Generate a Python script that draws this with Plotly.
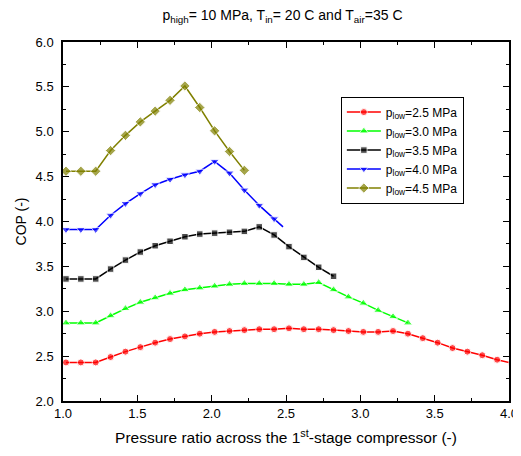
import plotly.graph_objects as go

x_red = [1.02, 1.12, 1.22, 1.32, 1.42, 1.52, 1.62, 1.72, 1.82, 1.92, 2.02, 2.12, 2.22, 2.32, 2.42, 2.52,
         2.62, 2.72, 2.82, 2.92, 3.02, 3.12, 3.22, 3.32, 3.42, 3.52, 3.62, 3.72, 3.82, 3.92, 4.02]
y_red = [2.43, 2.43, 2.43, 2.49, 2.55, 2.60, 2.65, 2.69, 2.72, 2.75, 2.77, 2.78, 2.79, 2.80, 2.80, 2.81,
         2.80, 2.80, 2.79, 2.78, 2.77, 2.77, 2.78, 2.75, 2.70, 2.65, 2.59, 2.55, 2.51, 2.46, 2.42]

x_green = [1.02, 1.12, 1.22, 1.32, 1.42, 1.52, 1.62, 1.72, 1.82, 1.92, 2.02, 2.12, 2.22, 2.32, 2.42, 2.52,
           2.62, 2.72, 2.82, 2.92, 3.02, 3.12, 3.22, 3.32]
y_green = [2.87, 2.87, 2.87, 2.95, 3.03, 3.10, 3.15, 3.20, 3.24, 3.26, 3.28, 3.30, 3.31, 3.31, 3.31, 3.30,
           3.30, 3.32, 3.24, 3.16, 3.09, 3.01, 2.94, 2.87]

x_black = [1.02, 1.12, 1.22, 1.32, 1.42, 1.52, 1.62, 1.72, 1.82, 1.92, 2.02, 2.12, 2.22, 2.32, 2.42, 2.52,
           2.62, 2.72, 2.82]
y_black = [3.36, 3.36, 3.36, 3.47, 3.57, 3.66, 3.73, 3.78, 3.83, 3.86, 3.87, 3.88, 3.89, 3.94, 3.85, 3.72,
           3.60, 3.49, 3.39]

x_blue = [1.02, 1.12, 1.22, 1.32, 1.42, 1.52, 1.62, 1.72, 1.82, 1.92, 2.02, 2.12, 2.22, 2.32, 2.42, 2.48]
y_blue = [3.91, 3.91, 3.91, 4.07, 4.20, 4.31, 4.41, 4.47, 4.52, 4.56, 4.67, 4.54, 4.35, 4.18, 4.03, 3.94]

x_olive = [1.02, 1.12, 1.22, 1.32, 1.42, 1.52, 1.62, 1.72, 1.82, 1.92, 2.02, 2.12, 2.22]
y_olive = [4.56, 4.56, 4.56, 4.79, 4.96, 5.11, 5.23, 5.35, 5.51, 5.27, 5.01, 4.78, 4.57]

names = ["p<sub>low</sub>=2.5 MPa", "p<sub>low</sub>=3.0 MPa", "p<sub>low</sub>=3.5 MPa",
         "p<sub>low</sub>=4.0 MPa", "p<sub>low</sub>=4.5 MPa"]
colors = ["#ff0000", "#00ff00", "#000000", "#0000ff", "#808000"]
symbols = ["circle", "triangle-up", "square", "triangle-down", "diamond"]
msizes = [7, 8, 6.5, 8, 8]
series = [(x_red, y_red), (x_green, y_green), (x_black, y_black), (x_blue, y_blue), (x_olive, y_olive)]

fig = go.Figure()
for i, ((xs, ys), nm, c, s, ms) in enumerate(zip(series, names, colors, symbols, msizes)):
    sizes = [ms] * len(xs)
    if i == 3:
        sizes[-1] = 0
    fig.add_trace(go.Scatter(
        x=xs, y=ys, name=nm, mode="lines+markers",
        line=dict(color=c, width=1.5),
        marker=dict(symbol=s, color=c, size=sizes),
    ))

fig.update_layout(
    width=513, height=448,
    margin=dict(l=55, r=12, t=34, b=55, autoexpand=False),
    paper_bgcolor="white", plot_bgcolor="white",
    font=dict(family="Liberation Sans, Arial, sans-serif", size=13, color="black"),
    title=dict(text="p<sub>high</sub>= 10 MPa, T<sub>in</sub>= 20 C and T<sub>air</sub>=35 C",
               x=0.535, xanchor="center", y=0.984, yanchor="middle",
               font=dict(size=14)),
    showlegend=True,
    legend=dict(x=0.623, y=0.848, xanchor="left", yanchor="top",
                bgcolor="white", bordercolor="black", borderwidth=1,
                font=dict(size=12), itemwidth=34, tracegroupgap=0),
)
fig.update_xaxes(
    range=[1.0, 4.0], dtick=0.5, tickformat=".1f", automargin=False,
    showline=True, linecolor="black", linewidth=1.5, mirror="ticks",
    ticks="inside", ticklen=6, tickwidth=1, tickcolor="black",
    minor=dict(ticks="inside", ticklen=3, dtick=0.25, tickcolor="black", showgrid=False),
    showgrid=False, zeroline=False,
    title=dict(text="Pressure ratio across the 1<sup>st</sup>-stage compressor (-)", font=dict(size=15.5), standoff=12),
)
fig.update_yaxes(
    range=[2.0, 6.0], dtick=0.5, tickformat=".1f", automargin=False,
    showline=True, linecolor="black", linewidth=1.5, mirror="ticks",
    ticks="inside", ticklen=6, tickwidth=1, tickcolor="black",
    minor=dict(ticks="inside", ticklen=3, dtick=0.25, tickcolor="black", showgrid=False),
    showgrid=False, zeroline=False, ticklabelstandoff=5,
    title=dict(text="COP (-)", font=dict(size=14), standoff=6),
)

fig.write_html("out.html")
